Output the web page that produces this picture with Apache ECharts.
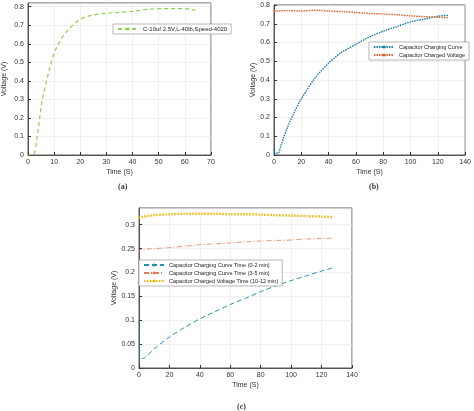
<!DOCTYPE html>
<html>
<head>
<meta charset="utf-8">
<script src="https://cdn.jsdelivr.net/npm/echarts@6/dist/echarts.min.js"></script>
<style>
  html, body { margin: 0; padding: 0; background: #fff; }
  #chart { width: 474px; height: 411px; }
</style>
</head>
<body>
<div id="chart"></div>
<script>
// (a) single charging curve
const timeA = [0, 2, 3.5, 5.5, 8, 10, 12.5, 15, 18, 21, 25, 30, 35, 40, 45, 50, 55, 60, 64];
const voltA = [0, 0, 0.1, 0.3, 0.45, 0.55, 0.62, 0.67, 0.71, 0.74, 0.755, 0.765, 0.77, 0.775, 0.785, 0.79, 0.79, 0.79, 0.78];

// (b) charging curve and charged voltage
const timeB = [0, 1, 3, 5, 10, 15, 20, 30, 40, 50, 60, 70, 80, 90, 100, 110, 120, 128];
const chargingB = [0.03, 0.01, 0.01, 0.05, 0.15, 0.23, 0.3, 0.41, 0.49, 0.55, 0.59, 0.63, 0.66, 0.685, 0.71, 0.725, 0.74, 0.745];
const chargedB = [0.765, 0.768, 0.768, 0.769, 0.77, 0.769, 0.768, 0.772, 0.768, 0.765, 0.76, 0.755, 0.752, 0.748, 0.742, 0.738, 0.735, 0.732];

// (c) three time windows
const timeC = [0, 0.5, 3, 5, 10, 20, 30, 40, 50, 60, 70, 80, 90, 100, 110, 120, 128];
const curve02 = [0.1, 0.02, 0.02, 0.025, 0.04, 0.065, 0.085, 0.103, 0.118, 0.133, 0.146, 0.16, 0.172, 0.183, 0.193, 0.203, 0.21];
const curve35 = [0.22, 0.247, 0.248, 0.249, 0.25, 0.252, 0.255, 0.258, 0.26, 0.262, 0.264, 0.266, 0.267, 0.268, 0.27, 0.271, 0.272];
const charged1012 = [0.313, 0.315, 0.317, 0.318, 0.32, 0.322, 0.323, 0.323, 0.323, 0.322, 0.322, 0.321, 0.32, 0.319, 0.318, 0.317, 0.316];

const pairs = (xs, ys) => xs.map((x, i) => [x, ys[i]]);

const chart = echarts.init(document.getElementById('chart'));

const axisCommon = {
  type: 'value',
  axisLine: { show: true, onZero: false, lineStyle: { color: '#333', width: 0.8 } },
  axisTick: { show: true, inside: true, length: 3, lineStyle: { color: '#333' } },
  axisLabel: { fontSize: 7, color: '#333', fontFamily: 'Liberation Sans', margin: 4 },
  splitLine: { show: true, lineStyle: { color: '#e6e6e6', width: 0.6 } },
  nameTextStyle: { fontSize: 7, color: '#333', fontFamily: 'Liberation Sans' },
  nameLocation: 'middle'
};
const x = (idx, max, interval) => Object.assign({}, axisCommon, {
  gridIndex: idx, min: 0, max: max, interval: interval, name: 'Time (S)', nameGap: 14
});
const y = (idx, max, interval, fmt) => Object.assign({}, axisCommon, {
  gridIndex: idx, min: 0, max: max, interval: interval, name: 'Voltage (V)', nameGap: fmt ? 20 : 14,
  axisLabel: Object.assign({}, axisCommon.axisLabel, { showMaxLabel: fmt ? false : true })
});

const legendCommon = {
  backgroundColor: '#fff', borderColor: '#888', borderWidth: 0.6, padding: [2, 4],
  itemWidth: 20, itemHeight: 4, itemGap: 2, orient: 'vertical',
  textStyle: { fontSize: 6, color: '#222', fontFamily: 'Liberation Sans' }
};

const line = (name, gi, xs, ys, color, width, dash) => ({
  name: name, type: 'line', xAxisIndex: gi, yAxisIndex: gi, smooth: 0.3, symbol: 'none',
  data: pairs(xs, ys), lineStyle: { color: color, width: width, type: dash }, itemStyle: { color: color }
});

chart.setOption({
  animation: false,
  grid: [
    { left: 23, top: 3, width: 188, height: 152, show: true, borderColor: '#333', borderWidth: 0.8 },
    { left: 274, top: 5, width: 196, height: 150, show: true, borderColor: '#333', borderWidth: 0.8 },
    { left: 139, top: 208, width: 213, height: 160, show: true, borderColor: '#333', borderWidth: 0.8 }
  ],
  xAxis: [x(0, 70, 10), x(1, 140, 20), x(2, 140, 20)],
  yAxis: [y(0, 0.82, 0.1, true), y(1, 0.8, 0.1), y(2, 0.335, 0.05, true)],
  title: [
    { text: '(a)', left: 113, top: 178, textStyle: { fontSize: 8, fontWeight: 'bold', fontFamily: 'Liberation Serif' } },
    { text: '(b)', left: 364, top: 178, textStyle: { fontSize: 8, fontWeight: 'bold', fontFamily: 'Liberation Serif' } },
    { text: '(c)', left: 232, top: 398, textStyle: { fontSize: 8, fontWeight: 'bold', fontFamily: 'Liberation Serif' } }
  ],
  legend: [
    Object.assign({}, legendCommon, { left: 113, top: 24, data: ['C-10uf 2.5V,L-40lb,Speed-4020'] }),
    Object.assign({}, legendCommon, { right: 5, top: 42, textStyle: Object.assign({}, legendCommon.textStyle, { fontSize: 5.5 }), data: ['Capacitor Charging Curve', 'Capacitor Charged Voltage'] }),
    Object.assign({}, legendCommon, { left: 139, top: 260, textStyle: Object.assign({}, legendCommon.textStyle, { fontSize: 5.5 }), data: ['Capacitor Charging Curve Time (0-2 min)', 'Capacitor Charging Curve Time (3-5 min)', 'Capacitor Charged Voltage Time (10-12 min)'] })
  ],
  series: [
    line('C-10uf 2.5V,L-40lb,Speed-4020', 0, timeA, voltA, '#8fd14f', 1.2, [4, 3]),
    line('Capacitor Charging Curve', 1, timeB, chargingB, '#1a7fa8', 1.4, [1.5, 1]),
    line('Capacitor Charged Voltage', 1, timeB, chargedB, '#e0622a', 1.4, [1.5, 1]),
    line('Capacitor Charging Curve Time (0-2 min)', 2, timeC, curve02, '#2a8fb0', 1, [5, 3]),
    line('Capacitor Charging Curve Time (3-5 min)', 2, timeC, curve35, '#e07a5a', 0.8, [5, 2, 1, 2]),
    line('Capacitor Charged Voltage Time (10-12 min)', 2, timeC, charged1012, '#f2b705', 2.4, [1.5, 1.5])
  ]
});
</script>
</body>
</html>
